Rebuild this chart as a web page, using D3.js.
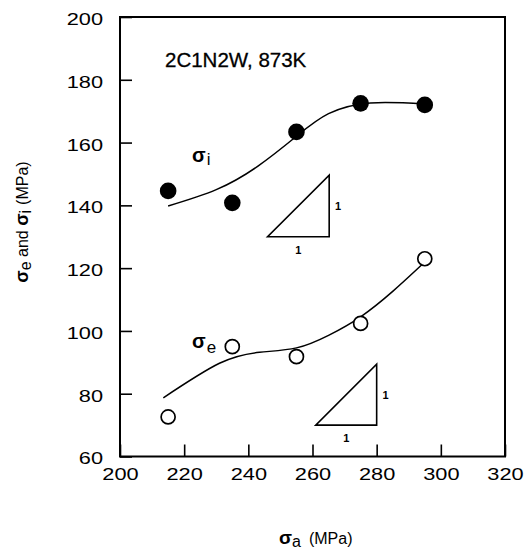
<!DOCTYPE html>
<html>
<head>
<meta charset="utf-8">
<script src="https://cdn.jsdelivr.net/npm/d3@7"></script>
<style>
  body { margin: 0; background: #fff; }
  text { font-family: "Liberation Sans", Arial, sans-serif; fill: #000; }
</style>
</head>
<body>
<div id="chart"></div>
<script>
// measured points
var sigmaA = [215, 235, 255, 275, 295];
var sigmaI = [144.6, 140.8, 163.4, 172.5, 172.0];
var sigmaE = [72.6, 95.0, 91.8, 102.4, 123.0];

// hand-drawn fit lines
var iFitX = [215, 230, 243, 255, 265, 278, 295];
var iFitY = [139.8, 145, 152.5, 162, 169.2, 172.6, 172.3];
var eFitX = [213.5, 231, 243.5, 255, 265, 275, 285, 294];
var eFitY = [78.7, 89.7, 93.2, 94.6, 98.6, 104.5, 112.6, 121];

// slope triangles (x0, x1, y0, y1)
var triUpper = [246, 265.2, 130, 149.6];
var triLower = [261, 280, 70, 89.4];

var xTicks = [200, 220, 240, 260, 280, 300, 320];
var yTicks = [60, 80, 100, 120, 140, 160, 180, 200];

var width = 525, height = 553;
var mLeft = 120, mRight = 505, mTop = 17, mBottom = 456.5;
var sx = 1.32; // tick labels look horizontally stretched

var svg = d3.select("#chart").append("svg")
  .attr("width", width)
  .attr("height", height);

var x = d3.scaleLinear().domain([200, 320]).range([mLeft, mRight]);
var y = d3.scaleLinear().domain([60, 200]).range([mBottom, mTop]);

// frame
svg.append("rect")
  .attr("x", mLeft).attr("y", mTop)
  .attr("width", mRight - mLeft).attr("height", mBottom - mTop)
  .style("fill", "none").style("stroke", "#000").style("stroke-width", 2);

var xAxis = svg.append("g")
  .attr("transform", "translate(0," + mBottom + ")")
  .call(d3.axisBottom(x).tickValues(xTicks).tickSize(-12).tickPadding(12).tickSizeOuter(0));
xAxis.select(".domain").remove();
xAxis.selectAll("line").style("stroke-width", 1.6);
xAxis.selectAll("text")
  .style("font-size", "16.5px")
  .attr("transform", "scale(" + sx + ",1)");

var yAxis = svg.append("g")
  .attr("transform", "translate(" + mLeft + ",0)")
  .call(d3.axisLeft(y).tickValues(yTicks).tickSize(-12).tickSizeOuter(0));
yAxis.select(".domain").remove();
yAxis.selectAll("line").style("stroke-width", 1.6);
yAxis.selectAll("text")
  .style("font-size", "16.5px")
  .attr("x", -17 / sx)
  .attr("dy", "0.45em")
  .attr("transform", "scale(" + sx + ",1)");

// fit curves
var line = d3.line()
  .x(function(d) { return x(d[0]); })
  .y(function(d) { return y(d[1]); })
  .curve(d3.curveNatural);

svg.append("path")
  .datum(d3.zip(iFitX, iFitY))
  .attr("d", line)
  .style("fill", "none").style("stroke", "#000").style("stroke-width", 1.5);

svg.append("path")
  .datum(d3.zip(eFitX, eFitY))
  .attr("d", line)
  .style("fill", "none").style("stroke", "#000").style("stroke-width", 1.5);

// points
svg.append("g").selectAll("circle")
  .data(d3.zip(sigmaA, sigmaI))
  .enter().append("circle")
  .attr("cx", function(d) { return x(d[0]); })
  .attr("cy", function(d) { return y(d[1]); })
  .attr("r", 8.3)
  .style("fill", "#000");

svg.append("g").selectAll("circle")
  .data(d3.zip(sigmaA, sigmaE))
  .enter().append("circle")
  .attr("cx", function(d) { return x(d[0]); })
  .attr("cy", function(d) { return y(d[1]); })
  .attr("r", 7)
  .style("fill", "#fff").style("stroke", "#000").style("stroke-width", 1.7);

// slope triangles
[triUpper, triLower].forEach(function(t) {
  var pts = [[t[0], t[2]], [t[1], t[2]], [t[1], t[3]]];
  svg.append("path")
    .attr("d", d3.line().x(function(d) { return x(d[0]); }).y(function(d) { return y(d[1]); })(pts) + "Z")
    .style("fill", "none").style("stroke", "#000").style("stroke-width", 1.6);
  svg.append("text")
    .attr("x", x(t[1]) + 9).attr("y", y((t[2] + t[3]) / 2) + 4)
    .attr("text-anchor", "middle")
    .style("font-size", "11px").style("font-weight", "bold")
    .text("1");
  svg.append("text")
    .attr("x", x((t[0] + t[1]) / 2)).attr("y", y(t[2]) + 17)
    .attr("text-anchor", "middle")
    .style("font-size", "11px").style("font-weight", "bold")
    .text("1");
});

// title
svg.append("text")
  .attr("x", 165).attr("y", 67)
  .style("font-size", "20.5px")
  .style("stroke", "#000").style("stroke-width", 0.3)
  .text("2C1N2W, 873K");

// curve labels
function sigmaLabel(px, py, sub, subDy) {
  var t = svg.append("text").attr("x", px).attr("y", py);
  t.append("tspan").style("font-size", "20px").style("font-weight", "bold").text("σ");
  t.append("tspan").style("font-size", "17px").attr("dx", 1).attr("dy", subDy).text(sub);
}
sigmaLabel(192, 162, "i", 3);
sigmaLabel(192, 348, "e", 5);

// axis titles
var xl = svg.append("text").attr("x", 279).attr("y", 544);
xl.append("tspan").style("font-size", "19px").style("font-weight", "bold").text("σ");
xl.append("tspan").style("font-size", "16px").attr("dy", 3).text("a");
xl.append("tspan").style("font-size", "16px").attr("dx", 8).attr("dy", -3).text("(MPa)");

var yl = svg.append("text")
  .attr("transform", "translate(28,222) rotate(-90)")
  .attr("text-anchor", "middle");
yl.append("tspan").style("font-size", "18px").style("font-weight", "bold").text("σ");
yl.append("tspan").style("font-size", "16px").attr("dy", 3).text("e");
yl.append("tspan").style("font-size", "16px").attr("dy", -3).text(" and ");
yl.append("tspan").style("font-size", "18px").style("font-weight", "bold").text("σ");
yl.append("tspan").style("font-size", "16px").attr("dy", 3).text("i");
yl.append("tspan").style("font-size", "16px").attr("dy", -3).attr("dx", 5).text("(MPa)");
</script>
</body>
</html>
